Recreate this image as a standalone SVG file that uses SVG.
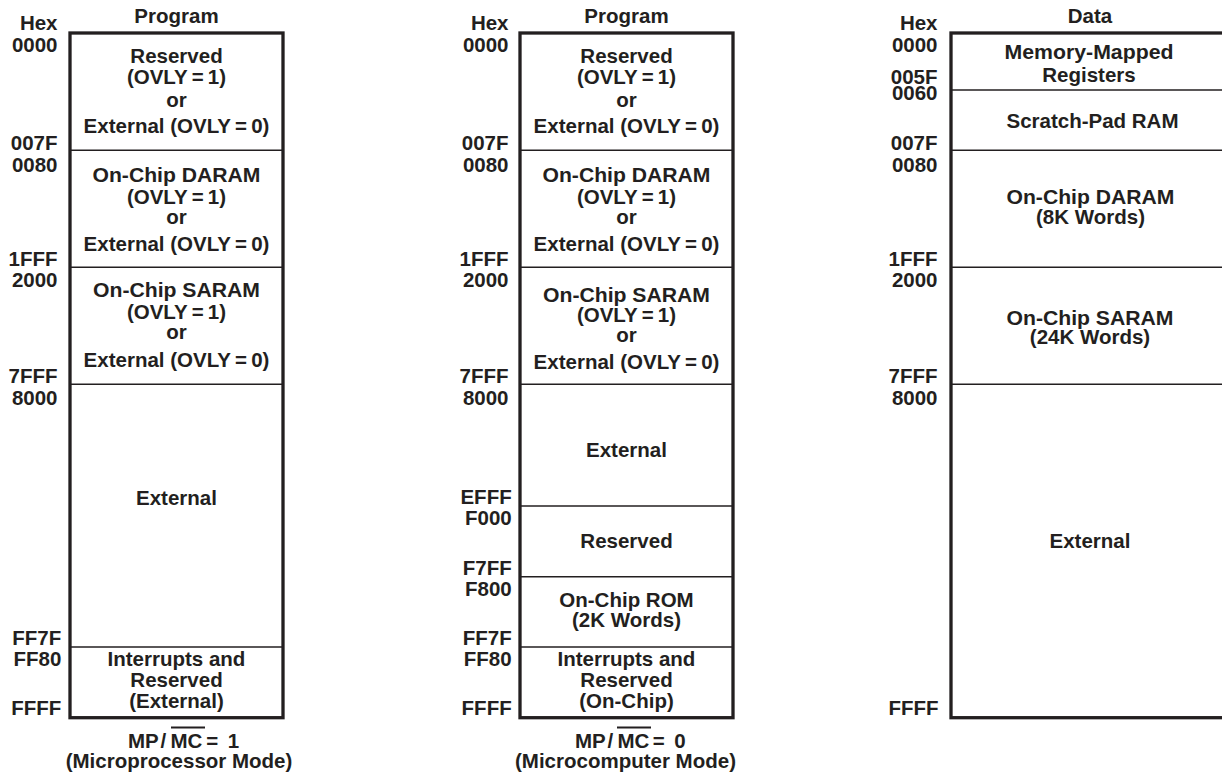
<svg xmlns="http://www.w3.org/2000/svg" width="1222" height="775" viewBox="0 0 1222 775">
<style>
.t{font-family:"Liberation Sans",Arial,Helvetica,sans-serif;font-weight:bold;font-size:20.5px;fill:#231f20;text-anchor:middle}
.h{font-family:"Liberation Sans",Arial,Helvetica,sans-serif;font-weight:bold;font-size:20.5px;fill:#231f20;text-anchor:end}
.c{font-family:"Liberation Sans",Arial,Helvetica,sans-serif;font-weight:bold;font-size:20.5px;fill:#231f20}
.box{fill:#fff;stroke:#231f20;stroke-width:3.3}
.div{stroke:#231f20;stroke-width:1.6;fill:none}
.ov{stroke:#231f20;stroke-width:2.2}
</style>
<rect width="1222" height="775" fill="#fff"/>

<!-- Map 1: Microprocessor mode program -->
<g id="map-program-mp">
  <text class="t" x="176.5" y="22.7">Program</text>
  <rect class="box" x="70" y="33" width="213" height="684.7"/>
  <g id="mp-addr">
    <text class="h" x="57.5" y="30">Hex</text>
    <text class="h" x="57.5" y="51.7">0000</text>
    <text class="h" x="57.5" y="150">007F</text>
    <text class="h" x="57.5" y="171.7">0080</text>
    <text class="h" x="57.5" y="266">1FFF</text>
    <text class="h" x="57.5" y="286.7">2000</text>
    <text class="h" x="57.5" y="382.7">7FFF</text>
    <text class="h" x="57.5" y="405">8000</text>
    <text class="h" x="61.3" y="645">FF7F</text>
    <text class="h" x="61.3" y="665.7">FF80</text>
    <text class="h" x="61.3" y="715">FFFF</text>
  </g>
  <g id="mp-seg-0000">
    <text class="t" x="176.5" y="63.3">Reserved</text>
    <text class="t" x="176.5" y="84">(OVLY&#8201;=&#8201;1)</text>
    <text class="t" x="176.5" y="106.5">or</text>
    <text class="t" x="176.5" y="133.3">External (OVLY&#8201;=&#8201;0)</text>
  </g>
  <g id="mp-seg-0080">
    <line class="div" x1="70" y1="150.3" x2="283" y2="150.3"/>
    <text class="t" x="176.5" y="182" textLength="168" lengthAdjust="spacingAndGlyphs">On-Chip DARAM</text>
    <text class="t" x="176.5" y="204">(OVLY&#8201;=&#8201;1)</text>
    <text class="t" x="176.5" y="223.5">or</text>
    <text class="t" x="176.5" y="250.7">External (OVLY&#8201;=&#8201;0)</text>
  </g>
  <g id="mp-seg-2000">
    <line class="div" x1="70" y1="267.3" x2="283" y2="267.3"/>
    <text class="t" x="176.5" y="296.7" textLength="167" lengthAdjust="spacingAndGlyphs">On-Chip SARAM</text>
    <text class="t" x="176.5" y="318.5">(OVLY&#8201;=&#8201;1)</text>
    <text class="t" x="176.5" y="339">or</text>
    <text class="t" x="176.5" y="367">External (OVLY&#8201;=&#8201;0)</text>
  </g>
  <g id="mp-seg-8000">
    <line class="div" x1="70" y1="384.3" x2="283" y2="384.3"/>
    <text class="t" x="176.5" y="505">External</text>
  </g>
  <g id="mp-seg-ff80">
    <line class="div" x1="70" y1="647" x2="283" y2="647"/>
    <text class="t" x="176.5" y="665.7">Interrupts and</text>
    <text class="t" x="176.5" y="686.7">Reserved</text>
    <text class="t" x="176.5" y="708.3">(External)</text>
  </g>
  <g id="mp-caption">
    <text class="c" y="748.3"><tspan x="128">MP</tspan><tspan x="160.5">/</tspan><tspan x="170.5">MC</tspan><tspan x="200.5"> =</tspan><tspan x="222"> 1</tspan></text>
    <line class="ov" x1="171" y1="727.5" x2="205" y2="727.5"/>
    <text class="t" x="179" y="767.5">(Microprocessor Mode)</text>
  </g>
</g>

<!-- Map 2: Microcomputer mode program -->
<g id="map-program-mc">
  <text class="t" x="626.5" y="22.7">Program</text>
  <rect class="box" x="520" y="33" width="213" height="684.7"/>
  <g id="mc-addr">
    <text class="h" x="508.5" y="30">Hex</text>
    <text class="h" x="508.5" y="51.7">0000</text>
    <text class="h" x="508.5" y="150">007F</text>
    <text class="h" x="508.5" y="171.7">0080</text>
    <text class="h" x="508.5" y="266">1FFF</text>
    <text class="h" x="508.5" y="286.7">2000</text>
    <text class="h" x="508.5" y="382.7">7FFF</text>
    <text class="h" x="508.5" y="405">8000</text>
    <text class="h" x="511.7" y="504">EFFF</text>
    <text class="h" x="511.7" y="525">F000</text>
    <text class="h" x="511.7" y="575">F7FF</text>
    <text class="h" x="511.7" y="596">F800</text>
    <text class="h" x="511.7" y="645">FF7F</text>
    <text class="h" x="511.7" y="665.7">FF80</text>
    <text class="h" x="511.7" y="715">FFFF</text>
  </g>
  <g id="mc-seg-0000">
    <text class="t" x="626.5" y="63.3">Reserved</text>
    <text class="t" x="626.5" y="84">(OVLY&#8201;=&#8201;1)</text>
    <text class="t" x="626.5" y="106.5">or</text>
    <text class="t" x="626.5" y="133.3">External (OVLY&#8201;=&#8201;0)</text>
  </g>
  <g id="mc-seg-0080">
    <line class="div" x1="520" y1="150.3" x2="733" y2="150.3"/>
    <text class="t" x="626.5" y="182" textLength="168" lengthAdjust="spacingAndGlyphs">On-Chip DARAM</text>
    <text class="t" x="626.5" y="204">(OVLY&#8201;=&#8201;1)</text>
    <text class="t" x="626.5" y="223.5">or</text>
    <text class="t" x="626.5" y="250.7">External (OVLY&#8201;=&#8201;0)</text>
  </g>
  <g id="mc-seg-2000">
    <line class="div" x1="520" y1="267.3" x2="733" y2="267.3"/>
    <text class="t" x="626.5" y="302" textLength="167" lengthAdjust="spacingAndGlyphs">On-Chip SARAM</text>
    <text class="t" x="626.5" y="321.5">(OVLY&#8201;=&#8201;1)</text>
    <text class="t" x="626.5" y="342">or</text>
    <text class="t" x="626.5" y="369">External (OVLY&#8201;=&#8201;0)</text>
  </g>
  <g id="mc-seg-8000">
    <line class="div" x1="520" y1="384.3" x2="733" y2="384.3"/>
    <text class="t" x="626.5" y="456.7">External</text>
  </g>
  <g id="mc-seg-f000">
    <line class="div" x1="520" y1="506" x2="733" y2="506"/>
    <text class="t" x="626.5" y="547.7">Reserved</text>
  </g>
  <g id="mc-seg-f800">
    <line class="div" x1="520" y1="576.7" x2="733" y2="576.7"/>
    <text class="t" x="626.5" y="606.7">On-Chip ROM</text>
    <text class="t" x="626.5" y="626.7">(2K Words)</text>
  </g>
  <g id="mc-seg-ff80">
    <line class="div" x1="520" y1="647" x2="733" y2="647"/>
    <text class="t" x="626.5" y="665.7">Interrupts and</text>
    <text class="t" x="626.5" y="686.7">Reserved</text>
    <text class="t" x="626.5" y="708.3">(On-Chip)</text>
  </g>
  <g id="mc-caption">
    <text class="c" y="748.3"><tspan x="575">MP</tspan><tspan x="607.5">/</tspan><tspan x="617.5">MC</tspan><tspan x="647"> =</tspan><tspan x="668.5"> 0</tspan></text>
    <line class="ov" x1="617" y1="727.5" x2="651" y2="727.5"/>
    <text class="t" x="625.5" y="767.5">(Microcomputer Mode)</text>
  </g>
</g>

<!-- Map 3: Data -->
<g id="map-data">
  <text class="t" x="1090" y="22.7">Data</text>
  <rect class="box" x="951" y="33" width="290" height="684.7"/>
  <g id="data-addr">
    <text class="h" x="937.5" y="30">Hex</text>
    <text class="h" x="937.5" y="51.7">0000</text>
    <text class="h" x="937.5" y="84">005F</text>
    <text class="h" x="937.5" y="99.5">0060</text>
    <text class="h" x="937.5" y="150">007F</text>
    <text class="h" x="937.5" y="171.7">0080</text>
    <text class="h" x="937.5" y="266">1FFF</text>
    <text class="h" x="937.5" y="286.7">2000</text>
    <text class="h" x="937.5" y="382.7">7FFF</text>
    <text class="h" x="937.5" y="405">8000</text>
    <text class="h" x="938.5" y="715">FFFF</text>
  </g>
  <g id="data-seg-0000">
    <text class="t" x="1089" y="59.3" textLength="169" lengthAdjust="spacingAndGlyphs">Memory-Mapped</text>
    <text class="t" x="1089" y="81.7">Registers</text>
  </g>
  <g id="data-seg-0060">
    <line class="div" x1="951" y1="90" x2="1241" y2="90"/>
    <text class="t" x="1092.5" y="128.3">Scratch-Pad RAM</text>
  </g>
  <g id="data-seg-0080">
    <line class="div" x1="951" y1="150.3" x2="1241" y2="150.3"/>
    <text class="t" x="1090.5" y="203.7" textLength="168" lengthAdjust="spacingAndGlyphs">On-Chip DARAM</text>
    <text class="t" x="1090.5" y="223.5">(8K Words)</text>
  </g>
  <g id="data-seg-2000">
    <line class="div" x1="951" y1="267.3" x2="1241" y2="267.3"/>
    <text class="t" x="1090" y="324.7" textLength="167" lengthAdjust="spacingAndGlyphs">On-Chip SARAM</text>
    <text class="t" x="1090" y="343.9">(24K Words)</text>
  </g>
  <g id="data-seg-8000">
    <line class="div" x1="951" y1="384.3" x2="1241" y2="384.3"/>
    <text class="t" x="1090" y="548">External</text>
  </g>
</g>
</svg>
